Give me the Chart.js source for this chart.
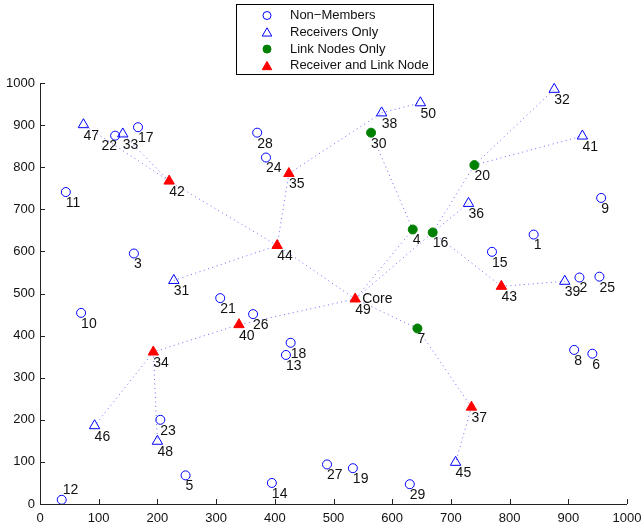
<!DOCTYPE html>
<html>
<head>
<meta charset="utf-8">
<title>Multicast tree</title>
<script src="https://cdn.jsdelivr.net/npm/chart.js@4.4.0/dist/chart.umd.min.js"></script>
<style>
  html, body { margin: 0; padding: 0; background: #fff; }
  #wrap { width: 641px; height: 529px; }
</style>
</head>
<body>
<div id="wrap"><canvas id="treeChart" width="641" height="529"></canvas></div>
<script>
// Non-members (open blue circles)
const nonMemberIds = [1, 2, 3, 5, 6, 8, 9, 10, 11, 12, 13, 14, 15, 17, 18, 19, 21, 22, 23, 24, 25, 26, 27, 28, 29];
const nonMemberX = [841, 919, 160, 248, 941, 910, 956, 70, 44, 37, 419, 395, 770, 167, 427, 533, 307, 128, 205, 385, 953, 363, 489, 370, 630];
const nonMemberY = [640, 538, 595, 68, 357, 366, 727, 454, 741, 10, 354, 50, 599, 895, 383, 85, 489, 875, 200, 823, 540, 451, 94, 882, 47];

// Receivers only (open blue triangles)
const receiverIds = [31, 32, 33, 36, 38, 39, 41, 45, 46, 47, 48, 50];
const receiverX = [228, 876, 141, 730, 582, 894, 924, 708, 93, 74, 200, 648];
const receiverY = [531, 985, 879, 714, 929, 529, 874, 99, 186, 901, 149, 953];

// Link nodes only (green dots)
const linkIds = [4, 7, 16, 20, 30];
const linkX = [635, 643, 669, 740, 564];
const linkY = [652, 417, 645, 805, 882];

// Receiver and link node (red triangles), 49 is the core
const bothIds = [34, 35, 37, 40, 42, 43, 44, 49];
const bothX = [193, 424, 735, 339, 220, 786, 404, 537];
const bothY = [361, 785, 230, 426, 767, 517, 614, 487];

// tree edges (dotted)
const edgeFrom = [49, 44, 42, 42, 44, 44, 35, 38, 49, 4, 49, 16, 20, 20, 16, 16, 43, 49, 7, 37, 49, 40, 34, 34];
const edgeTo   = [44, 42, 47, 33, 35, 31, 38, 50, 4, 30, 16, 20, 32, 41, 36, 43, 39, 7, 37, 45, 40, 34, 46, 48];

const tickValues = [0, 100, 200, 300, 400, 500, 600, 700, 800, 900, 1000];
const legendLabels = ['Non\u2212Members', 'Receivers Only', 'Link Nodes Only', 'Receiver and Link Node'];
const coreId = 49;

const blue = '#0000ff';
const green = '#008000';
const red = '#ff0000';

// lookup of every node position by id
const nodePos = {};
function addNodes(ids, xs, ys) {
    ids.forEach((id, i) => { nodePos[id] = { x: xs[i], y: ys[i] }; });
}
addNodes(nonMemberIds, nonMemberX, nonMemberY);
addNodes(receiverIds, receiverX, receiverY);
addNodes(linkIds, linkX, linkY);
addNodes(bothIds, bothX, bothY);

function toPoints(xs, ys) {
    return xs.map((x, i) => ({ x: x, y: ys[i] }));
}

const edgeSets = edgeFrom.map((a, i) => ({
    data: [nodePos[a], nodePos[edgeTo[i]]],
    showLine: true,
    borderColor: '#6a6aff',
    borderWidth: 1,
    borderDash: [1, 3.5],
    pointRadius: 0,
    order: 10
}));

const markerSets = [
    { data: toPoints(nonMemberX, nonMemberY), pointStyle: 'circle', pointRadius: 4.5,
      borderColor: blue, backgroundColor: 'rgba(0,0,0,0)', borderWidth: 1, order: 1 },
    { data: toPoints(receiverX, receiverY), pointStyle: 'triangle', pointRadius: 6,
      borderColor: blue, backgroundColor: 'rgba(0,0,0,0)', borderWidth: 1, order: 1 },
    { data: toPoints(linkX, linkY), pointStyle: 'circle', pointRadius: 4.5,
      borderColor: green, backgroundColor: green, borderWidth: 1, order: 1 },
    { data: toPoints(bothX, bothY), pointStyle: 'triangle', pointRadius: 6,
      borderColor: red, backgroundColor: red, borderWidth: 1, order: 1 }
];

function drawSymbol(ctx, style, x, y, r, stroke, fill) {
    ctx.beginPath();
    if (style === 'circle') {
        ctx.arc(x, y, r, 0, Math.PI * 2);
    } else {
        ctx.moveTo(x, y - r);
        ctx.lineTo(x + r * Math.sin(Math.PI * 2 / 3), y + r / 2);
        ctx.lineTo(x - r * Math.sin(Math.PI * 2 / 3), y + r / 2);
        ctx.closePath();
    }
    if (fill) { ctx.fillStyle = fill; ctx.fill(); }
    ctx.strokeStyle = stroke;
    ctx.lineWidth = 1;
    ctx.stroke();
}

// axes with inward ticks, node numbers and the boxed legend
const decorPlugin = {
    id: 'decor',
    afterDatasetsDraw(chart) {
        const ctx = chart.ctx;
        const xs = chart.scales.x, ys = chart.scales.y;
        const area = chart.chartArea;

        ctx.save();
        ctx.strokeStyle = '#222';
        ctx.lineWidth = 1;
        ctx.beginPath();
        ctx.moveTo(Math.round(area.left) + 0.5, area.top);
        ctx.lineTo(Math.round(area.left) + 0.5, Math.round(area.bottom) + 0.5);
        ctx.lineTo(area.right, Math.round(area.bottom) + 0.5);
        tickValues.forEach(v => {
            const px = Math.round(xs.getPixelForValue(v)) + 0.5;
            ctx.moveTo(px, area.bottom);
            ctx.lineTo(px, area.bottom - 5);
            const py = Math.round(ys.getPixelForValue(v)) + 0.5;
            ctx.moveTo(area.left, py);
            ctx.lineTo(area.left + 5, py);
        });
        ctx.stroke();

        // node numbers
        ctx.fillStyle = '#111';
        ctx.font = '14px "Liberation Sans", Arial, sans-serif';
        ctx.textBaseline = 'middle';
        Object.keys(nodePos).forEach(key => {
            const id = Number(key);
            const px = xs.getPixelForValue(nodePos[id].x);
            const py = ys.getPixelForValue(nodePos[id].y);
            ctx.textAlign = 'left';
            if (id === 12) {
                ctx.fillText(String(id), px + 1, py - 10);
            } else if (id === 22) {
                ctx.textAlign = 'right';
                ctx.fillText(String(id), px + 2, py + 11);
            } else {
                ctx.fillText(String(id), px, py + 11);
            }
            if (id === coreId) {
                ctx.textAlign = 'left';
                ctx.fillText('Core', px + 7, py);
            }
        });

        // legend
        ctx.fillStyle = '#fff';
        ctx.fillRect(236, 4, 197, 70);
        ctx.strokeStyle = '#000';
        ctx.strokeRect(236.5, 4.5, 197, 70);
        const styles = [
            ['circle', 4, blue, null],
            ['triangle', 5.5, blue, null],
            ['circle', 4, green, green],
            ['triangle', 5.5, red, red]
        ];
        ctx.font = '13px "Liberation Sans", Arial, sans-serif';
        ctx.textAlign = 'left';
        legendLabels.forEach((txt, i) => {
            const cy = 15.5 + i * 16.8;
            const s = styles[i];
            drawSymbol(ctx, s[0], 267, s[0] === 'triangle' ? cy + 1 : cy, s[1], s[2], s[3]);
            ctx.fillStyle = '#111';
            ctx.fillText(txt, 290, cy);
        });
        ctx.restore();
    }
};

const axisTicks = {
    color: '#111',
    font: { family: '"Liberation Sans", Arial, sans-serif', size: 13 },
    stepSize: 100,
    autoSkip: false,
    callback: v => String(v)
};

new Chart(document.getElementById('treeChart').getContext('2d'), {
    type: 'scatter',
    data: { datasets: markerSets.concat(edgeSets) },
    options: {
        responsive: false,
        animation: false,
        layout: { padding: { top: 83, right: 14, left: 0, bottom: 0 } },
        plugins: { legend: { display: false }, tooltip: { enabled: false } },
        scales: {
            x: {
                type: 'linear', min: 0, max: 1000,
                grid: { display: false, drawTicks: false },
                border: { display: false },
                ticks: Object.assign({ padding: 7 }, axisTicks),
                afterFit: s => { s.height = 25; s.paddingLeft = 0; s.paddingRight = 0; }
            },
            y: {
                type: 'linear', min: 0, max: 1000,
                grid: { display: false, drawTicks: false },
                border: { display: false },
                ticks: Object.assign({ padding: 5 }, axisTicks),
                afterFit: s => { s.width = 40; s.paddingTop = 0; s.paddingBottom = 0; }
            }
        }
    },
    plugins: [decorPlugin]
});
</script>
</body>
</html>
